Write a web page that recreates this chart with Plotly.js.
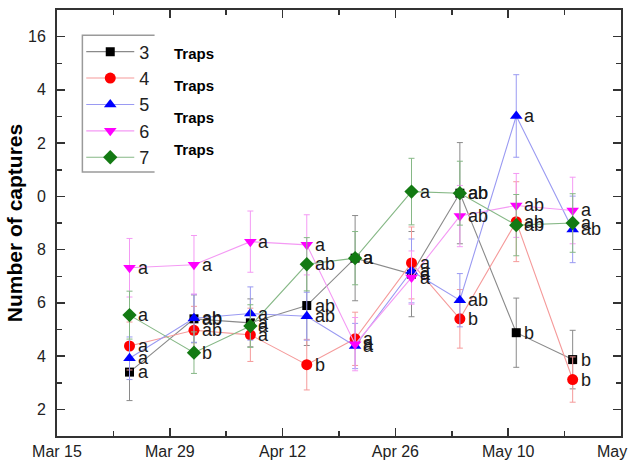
<!DOCTYPE html>
<html>
<head>
<meta charset="utf-8">
<script src="https://cdn.plot.ly/plotly-3.0.1.min.js"></script>
<style>html,body{margin:0;padding:0;background:#fff;}#chart{width:634px;height:464px;}</style>
</head>
<body>
<div id="chart"></div>
<script>
// ---- data ----
const dates = ['2019-03-24','2019-04-01','2019-04-08','2019-04-15','2019-04-21','2019-04-28','2019-05-04','2019-05-11','2019-05-18'];
const seriesNames = ['3','4','5','6','7'];

const traps3 = [3.40, 5.40, 5.25, 5.90, 7.68, 7.08, 10.12, 4.88, 3.87];
const traps4 = [4.38, 4.97, 4.80, 3.68, 4.65, 7.50, 5.40, 9.05, 3.12];
const traps5 = [3.92, 5.42, 5.60, 5.50, 4.38, 7.20, 6.10, 13.02, 8.76];
const traps6 = [7.32, 7.43, 8.30, 8.18, 4.45, 6.95, 9.26, 9.66, 9.47];
const traps7 = [5.54, 4.13, 5.13, 7.45, 7.68, 10.18, 10.12, 8.92, 9.00];

const err3 = [1.07, 0.90, 0.90, 1.50, 1.60, 1.60, 1.90, 1.30, 1.10];
const err4 = [0.90, 0.90, 1.00, 0.95, 1.00, 1.35, 1.10, 1.50, 0.85];
const err5 = [0.80, 0.90, 1.00, 0.90, 0.85, 1.20, 1.00, 1.55, 1.25];
const err6 = [1.10, 1.10, 1.15, 1.13, 1.00, 1.00, 1.15, 1.20, 1.25];
const err7 = [0.90, 0.78, 0.80, 1.00, 1.00, 1.25, 1.20, 1.15, 1.10];

const letters3 = ['a','ab','a','ab','a','a','ab','b','b'];
const letters4 = ['a','ab','a','b','a','a','b','ab','b'];
const letters5 = ['a','ab','a','ab','a','a','ab','a','ab'];
const letters6 = ['a','a','a','a','a','a','ab','ab','a'];
const letters7 = ['a','b','a','ab','a','a','ab','ab','a'];

const xTickVals = ['2019-03-15','2019-03-29','2019-04-12','2019-04-26','2019-05-10','2019-05-24'];
const xTickText = ['Mar 15','Mar 29','Apr 12','Apr 26','May 10','May\u00a0\u00a0\u00a0\u00a0'];
const yTickVals = [2,4,6,8,10,12,14,16];
const yTickText = ['2','4','6','8','0','2','4','16'];
const legendSuffix = ['Traps','Traps','Traps','Traps'];

// ---- styles ----
const values = [traps3, traps4, traps5, traps6, traps7];
const errs = [err3, err4, err5, err6, err7];
const letters = [letters3, letters4, letters5, letters6, letters7];
const markerColors = ['#000000','#ff0000','#0000ff','#ff00ff','#137a13'];
const lineColors = ['#8a8a8a','#f59a9a','#9a9af2','#f49af4','#86b886'];
const symbols = ['square','circle','triangle-up','triangle-down','diamond'];
const sizes = [9, 11, 11, 11, 11];

const traces = values.map((v, i) => ({
  type: 'scatter', mode: 'lines+markers', name: seriesNames[i],
  x: dates, y: v,
  line: {color: lineColors[i], width: 1.1},
  marker: {symbol: symbols[i], size: sizes[i], color: markerColors[i], line: {width: 0}},
  error_y: {type: 'data', array: errs[i], visible: true, color: lineColors[i], thickness: 1, width: 3}
}));

const annotations = [];
values.forEach((v, i) => {
  v.forEach((y, j) => {
    annotations.push({
      x: dates[j], y: y, xref: 'x', yref: 'y', text: letters[i][j],
      showarrow: false, xanchor: 'left', yanchor: 'middle', xshift: 6,
      font: {family: 'Liberation Sans, Arial, sans-serif', size: 18, color: '#1a1a1a'}
    });
  });
});
const trapsY = [0.899, 0.8216, 0.7465, 0.6714];
legendSuffix.forEach((t, k) => {
  annotations.push({
    x: 0.2032, y: trapsY[k], xref: 'paper', yref: 'paper', text: '<b>' + t + '</b>',
    showarrow: false, xanchor: 'left', yanchor: 'middle',
    font: {family: 'Liberation Sans, Arial, sans-serif', size: 15, color: '#000'}
  });
});

const axisFont = {family: 'Liberation Sans, Arial, sans-serif', size: 16, color: '#222'};

const layout = {
  width: 634, height: 464,
  margin: {l: 57, r: 13, t: 10, b: 28},
  paper_bgcolor: '#fff', plot_bgcolor: '#fff',
  showlegend: true,
  legend: {
    x: 0.043, y: 0.945, xanchor: 'left', yanchor: 'top',
    bgcolor: 'rgba(255,255,255,0)', borderwidth: 0,
    itemwidth: 48,
    font: {family: 'Liberation Sans, Arial, sans-serif', size: 18, color: '#222'}
  },
  xaxis: {
    type: 'date', range: ['2019-03-15','2019-05-24'],
    tickmode: 'array', tickvals: xTickVals, ticktext: xTickText,
    ticks: 'inside', ticklen: 8, tickwidth: 1.5, tickcolor: '#333',
    showline: true, linecolor: '#333', linewidth: 2, mirror: 'allticks',
    showgrid: false, zeroline: false, tickfont: axisFont, ticklabeloverflow: 'allow',
    minor: {tickmode: 'linear', tick0: '2019-03-15', dtick: 604800000, ticks: 'inside', ticklen: 5, tickwidth: 1.5, tickcolor: '#333', showgrid: false}
  },
  yaxis: {
    range: [1, 17],
    tickmode: 'array', tickvals: yTickVals, ticktext: yTickText,
    ticks: 'inside', ticklen: 8, tickwidth: 1.5, tickcolor: '#333',
    showline: true, linecolor: '#333', linewidth: 2, mirror: 'allticks',
    showgrid: false, zeroline: false, tickfont: axisFont, ticklabelstandoff: 6,
    minor: {tickmode: 'linear', tick0: 1, dtick: 1, ticks: 'inside', ticklen: 5, tickwidth: 1.5, tickcolor: '#333', showgrid: false},
    title: {text: 'Number of captures', standoff: 0,
      font: {family: 'Liberation Sans, Arial, sans-serif', size: 21, color: '#000', weight: 'bold'}}
  },
  shapes: [{
    type: 'path', xref: 'paper', yref: 'paper',
    path: 'M 0.173 0.941 L 0.045 0.941 L 0.045 0.62 L 0.173 0.62',
    line: {color: '#9a9a9a', width: 1.5}
  }],
  annotations: annotations
};

Plotly.newPlot('chart', traces, layout, {displayModeBar: false, staticPlot: true});
</script>
</body>
</html>
